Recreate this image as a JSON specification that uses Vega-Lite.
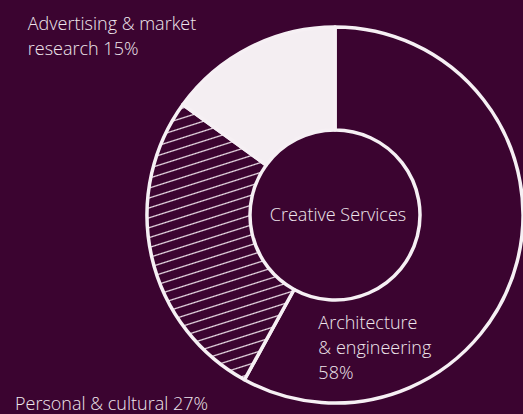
{
  "$schema": "https://vega.github.io/schema/vega-lite/v6.json",
  "autosize": "none",
  "width": 374,
  "height": 398,
  "padding": {"left": 148, "right": 1, "top": 16, "bottom": 0},
  "background": "#3b0430",
  "config": {
    "view": {"stroke": null},
    "text": {"font": "Open Sans", "fontWeight": 300, "fontSize": 18, "fill": "#efe6ec"}
  },
  "layer": [
    {
      "data": {"name": "shares", "values": [
        {"segment": "Architecture & engineering", "share": 58, "order": 1, "label": "Architecture\n& engineering\n58%"},
        {"segment": "Personal & cultural", "share": 27, "order": 2, "label": "Personal & cultural 27%"},
        {"segment": "Advertising & market research", "share": 15, "order": 3, "label": "Advertising & market\nresearch 15%"}
      ]},
      "transform": [{"stack": "share", "sort": [{"field": "order"}], "groupby": [], "as": ["s0", "s1"]}],
      "layer": [
        {
          "mark": {"type": "arc", "outerRadius": 188, "innerRadius": 85, "stroke": "#f6f0f4", "strokeWidth": 3.5, "strokeJoin": "round"},
          "encoding": {
            "theta": {"field": "s0", "type": "quantitative", "scale": {"domain": [0, 100]}},
            "theta2": {"field": "s1"},
            "fill": {
              "condition": [
                {"test": "datum.order === 2", "value": {
                  "gradient": "linear", "x1": 0, "y1": 0, "x2": 0.19, "y2": 1.12,
                  "stops": [
                    {"offset": 0.0116, "color": "#3b0430"}, {"offset": 0.0156, "color": "#ecdfe8"}, {"offset": 0.0196, "color": "#3b0430"},
                    {"offset": 0.0429, "color": "#3b0430"}, {"offset": 0.0469, "color": "#ecdfe8"}, {"offset": 0.0509, "color": "#3b0430"},
                    {"offset": 0.0741, "color": "#3b0430"}, {"offset": 0.0781, "color": "#ecdfe8"}, {"offset": 0.0821, "color": "#3b0430"},
                    {"offset": 0.1054, "color": "#3b0430"}, {"offset": 0.1094, "color": "#ecdfe8"}, {"offset": 0.1134, "color": "#3b0430"},
                    {"offset": 0.1366, "color": "#3b0430"}, {"offset": 0.1406, "color": "#ecdfe8"}, {"offset": 0.1446, "color": "#3b0430"},
                    {"offset": 0.1679, "color": "#3b0430"}, {"offset": 0.1719, "color": "#ecdfe8"}, {"offset": 0.1759, "color": "#3b0430"},
                    {"offset": 0.1991, "color": "#3b0430"}, {"offset": 0.2031, "color": "#ecdfe8"}, {"offset": 0.2071, "color": "#3b0430"},
                    {"offset": 0.2304, "color": "#3b0430"}, {"offset": 0.2344, "color": "#ecdfe8"}, {"offset": 0.2384, "color": "#3b0430"},
                    {"offset": 0.2616, "color": "#3b0430"}, {"offset": 0.2656, "color": "#ecdfe8"}, {"offset": 0.2696, "color": "#3b0430"},
                    {"offset": 0.2929, "color": "#3b0430"}, {"offset": 0.2969, "color": "#ecdfe8"}, {"offset": 0.3009, "color": "#3b0430"},
                    {"offset": 0.3241, "color": "#3b0430"}, {"offset": 0.3281, "color": "#ecdfe8"}, {"offset": 0.3321, "color": "#3b0430"},
                    {"offset": 0.3554, "color": "#3b0430"}, {"offset": 0.3594, "color": "#ecdfe8"}, {"offset": 0.3634, "color": "#3b0430"},
                    {"offset": 0.3866, "color": "#3b0430"}, {"offset": 0.3906, "color": "#ecdfe8"}, {"offset": 0.3946, "color": "#3b0430"},
                    {"offset": 0.4179, "color": "#3b0430"}, {"offset": 0.4219, "color": "#ecdfe8"}, {"offset": 0.4259, "color": "#3b0430"},
                    {"offset": 0.4491, "color": "#3b0430"}, {"offset": 0.4531, "color": "#ecdfe8"}, {"offset": 0.4571, "color": "#3b0430"},
                    {"offset": 0.4804, "color": "#3b0430"}, {"offset": 0.4844, "color": "#ecdfe8"}, {"offset": 0.4884, "color": "#3b0430"},
                    {"offset": 0.5116, "color": "#3b0430"}, {"offset": 0.5156, "color": "#ecdfe8"}, {"offset": 0.5196, "color": "#3b0430"},
                    {"offset": 0.5429, "color": "#3b0430"}, {"offset": 0.5469, "color": "#ecdfe8"}, {"offset": 0.5509, "color": "#3b0430"},
                    {"offset": 0.5741, "color": "#3b0430"}, {"offset": 0.5781, "color": "#ecdfe8"}, {"offset": 0.5821, "color": "#3b0430"},
                    {"offset": 0.6054, "color": "#3b0430"}, {"offset": 0.6094, "color": "#ecdfe8"}, {"offset": 0.6134, "color": "#3b0430"},
                    {"offset": 0.6366, "color": "#3b0430"}, {"offset": 0.6406, "color": "#ecdfe8"}, {"offset": 0.6446, "color": "#3b0430"},
                    {"offset": 0.6679, "color": "#3b0430"}, {"offset": 0.6719, "color": "#ecdfe8"}, {"offset": 0.6759, "color": "#3b0430"},
                    {"offset": 0.6991, "color": "#3b0430"}, {"offset": 0.7031, "color": "#ecdfe8"}, {"offset": 0.7071, "color": "#3b0430"},
                    {"offset": 0.7304, "color": "#3b0430"}, {"offset": 0.7344, "color": "#ecdfe8"}, {"offset": 0.7384, "color": "#3b0430"},
                    {"offset": 0.7616, "color": "#3b0430"}, {"offset": 0.7656, "color": "#ecdfe8"}, {"offset": 0.7696, "color": "#3b0430"},
                    {"offset": 0.7929, "color": "#3b0430"}, {"offset": 0.7969, "color": "#ecdfe8"}, {"offset": 0.8009, "color": "#3b0430"},
                    {"offset": 0.8241, "color": "#3b0430"}, {"offset": 0.8281, "color": "#ecdfe8"}, {"offset": 0.8321, "color": "#3b0430"},
                    {"offset": 0.8554, "color": "#3b0430"}, {"offset": 0.8594, "color": "#ecdfe8"}, {"offset": 0.8634, "color": "#3b0430"},
                    {"offset": 0.8866, "color": "#3b0430"}, {"offset": 0.8906, "color": "#ecdfe8"}, {"offset": 0.8946, "color": "#3b0430"},
                    {"offset": 0.9179, "color": "#3b0430"}, {"offset": 0.9219, "color": "#ecdfe8"}, {"offset": 0.9259, "color": "#3b0430"},
                    {"offset": 0.9491, "color": "#3b0430"}, {"offset": 0.9531, "color": "#ecdfe8"}, {"offset": 0.9571, "color": "#3b0430"},
                    {"offset": 0.9804, "color": "#3b0430"}, {"offset": 0.9844, "color": "#ecdfe8"}, {"offset": 0.9884, "color": "#3b0430"}
                  ]
                }},
                {"test": "datum.order === 3", "value": "#f4eef2"}
              ],
              "value": "#3b0430"
            }
          }
        },
        {
          "transform": [{"filter": "datum.order === 1"}],
          "mark": {"type": "text", "radius": 130, "align": "left", "baseline": "alphabetic", "lineBreak": "\n", "lineHeight": 25, "dx": 46},
          "encoding": {
            "theta": {"field": "s1", "type": "quantitative", "stack": null},
            "text": {"field": "label", "type": "nominal"}
          }
        },
        {
          "transform": [{"filter": "datum.order === 2"}],
          "mark": {"type": "text", "radius": 222, "align": "right", "baseline": "alphabetic", "dx": -20},
          "encoding": {
            "theta": {"field": "s0", "type": "quantitative", "stack": null},
            "text": {"field": "label", "type": "nominal"}
          }
        },
        {
          "transform": [{"filter": "datum.order === 3"}],
          "mark": {"type": "text", "radius": 355, "align": "left", "baseline": "alphabetic", "lineBreak": "\n", "lineHeight": 25, "dx": -20, "dy": 24},
          "encoding": {
            "theta": {"field": "s0", "type": "quantitative", "stack": null},
            "text": {"field": "label", "type": "nominal"}
          }
        }
      ]
    },
    {
      "data": {"values": [{"label": "Creative Services"}]},
      "mark": {"type": "text", "align": "center", "baseline": "middle", "dx": 3, "dy": 1},
      "encoding": {"text": {"field": "label", "type": "nominal"}}
    }
  ]
}
